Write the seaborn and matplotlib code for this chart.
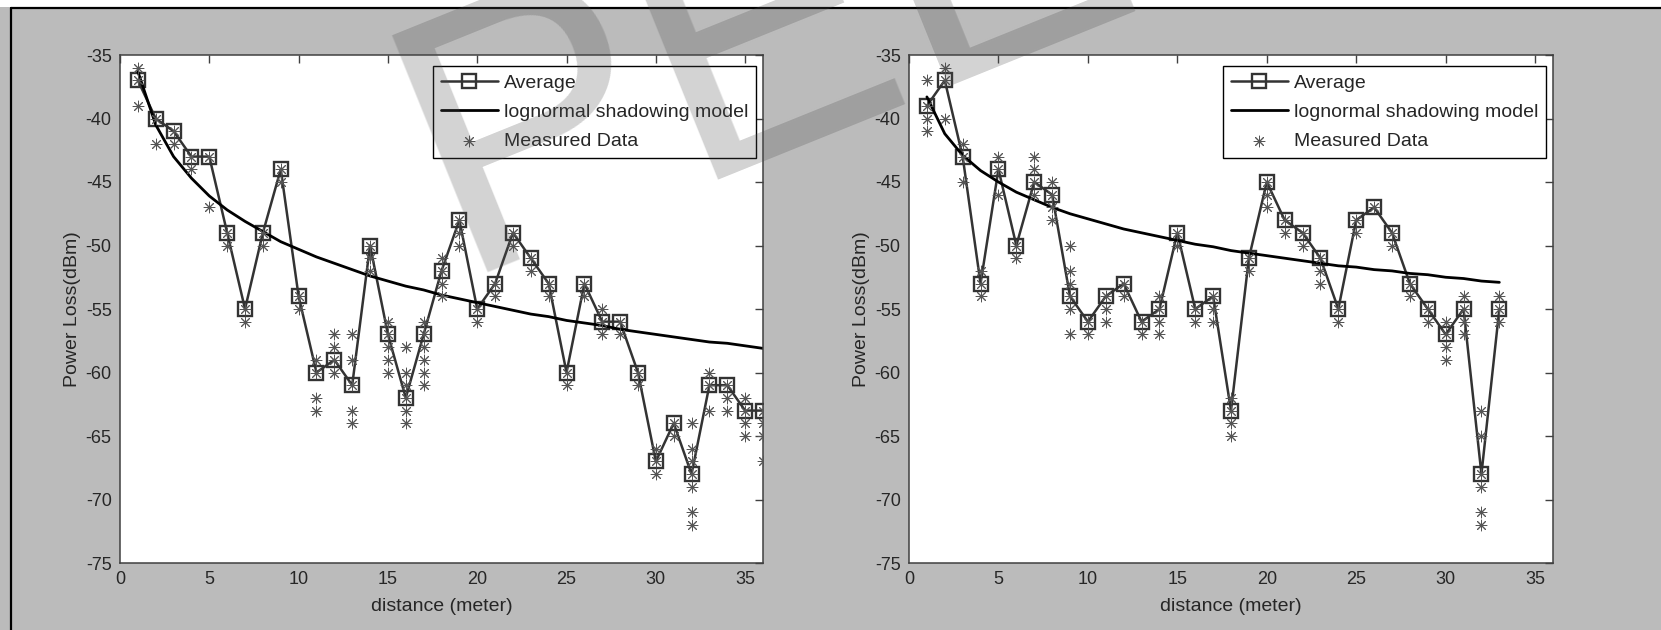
import numpy as np
import pandas as pd
import seaborn as sns
import matplotlib.pyplot as plt
from matplotlib.lines import Line2D
from matplotlib.patches import Rectangle

# left panel data
dist_left = list(range(1, 37))
avg_left = [-37, -40, -41, -43, -43, -49, -55, -49, -44, -54, -60, -59, -61, -50, -57, -62, -57, -52,
            -48, -55, -53, -49, -51, -53, -60, -53, -56, -56, -60, -67, -64, -68, -61, -61, -63, -63]
model_left = [-36.3, -40.5, -43.0, -44.7, -46.1, -47.2, -48.1, -48.9, -49.7, -50.3, -50.9, -51.4,
              -51.9, -52.4, -52.8, -53.2, -53.5, -53.9, -54.2, -54.5, -54.8, -55.1, -55.4, -55.6,
              -55.9, -56.1, -56.3, -56.6, -56.8, -57.0, -57.2, -57.4, -57.6, -57.7, -57.9, -58.1]
meas_left = [[-36, -37, -39], [-40, -42], [-41, -42], [-43, -44], [-43, -47], [-49, -50],
             [-55, -56], [-49, -50], [-44, -45], [-54, -55], [-59, -60, -62, -63],
             [-57, -58, -59, -60], [-57, -59, -61, -63, -64], [-50, -51, -52],
             [-56, -57, -58, -59, -60], [-58, -60, -61, -62, -63, -64],
             [-56, -57, -58, -59, -60, -61], [-51, -52, -53, -54], [-48, -49, -50], [-55, -56],
             [-53, -54], [-49, -50], [-51, -52], [-53, -54], [-60, -61], [-53, -54],
             [-55, -56, -57], [-56, -57], [-60, -61], [-66, -67, -68], [-64, -65],
             [-64, -66, -67, -68, -69, -71, -72], [-60, -61, -63], [-61, -62, -63],
             [-62, -63, -64, -65], [-63, -64, -65, -67]]

# right panel data
dist_right = list(range(1, 34))
avg_right = [-39, -37, -43, -53, -44, -50, -45, -46, -54, -56, -54, -53, -56, -55, -49, -55, -54,
             -63, -51, -45, -48, -49, -51, -55, -48, -47, -49, -53, -55, -57, -55, -68, -55]
model_right = [-38.3, -41.2, -42.9, -44.1, -45.0, -45.8, -46.4, -47.0, -47.5, -47.9, -48.3, -48.7,
               -49.0, -49.3, -49.6, -49.9, -50.1, -50.4, -50.6, -50.8, -51.0, -51.2, -51.4, -51.6,
               -51.7, -51.9, -52.0, -52.2, -52.3, -52.5, -52.6, -52.8, -52.9]
meas_right = [[-37, -39, -40, -41], [-36, -37, -40], [-42, -43, -45], [-52, -53, -54],
              [-43, -44, -46], [-50, -51], [-43, -44, -45, -46], [-45, -46, -47, -48],
              [-50, -52, -53, -54, -55, -57], [-56, -57], [-54, -55, -56], [-53, -54],
              [-56, -57], [-54, -55, -56, -57], [-49, -50], [-55, -56], [-54, -55, -56],
              [-62, -63, -64, -65], [-51, -52], [-45, -46, -47], [-48, -49], [-49, -50],
              [-51, -52, -53], [-55, -56], [-48, -49], [-47], [-49, -50], [-53, -54],
              [-55, -56], [-56, -57, -58, -59], [-54, -55, -56, -57],
              [-63, -65, -68, -69, -71, -72], [-54, -55, -56]]

x_ticks = [0, 5, 10, 15, 20, 25, 30, 35]
y_ticks = [-75, -70, -65, -60, -55, -50, -45, -40, -35]

sns.set_style("white")
plt.rcParams['font.family'] = ['Liberation Sans', 'DejaVu Sans']
plt.rcParams['axes.unicode_minus'] = False

fig = plt.figure(figsize=(16.61, 6.30), dpi=100, facecolor='#bbbbbb')
ax1 = fig.add_axes([120/1661, 67/630, 643/1661, 508/630])
ax2 = fig.add_axes([909/1661, 67/630, 644/1661, 508/630])


def draw_panel(ax, dist, avg, model, meas):
    meas_df = pd.DataFrame({'d': dist, 'p': meas}).explode('p')
    meas_df['p'] = meas_df['p'].astype(float)
    sns.lineplot(x=dist, y=avg, ax=ax, color='#333333', lw=1.8, marker='s', markersize=9.5,
                 markerfacecolor='none', markeredgecolor='#333333', markeredgewidth=1.7,
                 label='Average', estimator=None)
    sns.lineplot(x=dist, y=model, ax=ax, color='black', lw=2.0,
                 label='lognormal shadowing model', estimator=None)
    sns.scatterplot(data=meas_df, x='d', y='p', ax=ax, marker=(8, 2, 0), s=60,
                    color='#555555', linewidth=0.7, label='Measured Data', zorder=3)
    ax.set_xlim(0, 36)
    ax.set_ylim(-75, -35)
    ax.set_xticks(x_ticks)
    ax.set_yticks(y_ticks)
    ax.set_facecolor('white')
    ax.tick_params(direction='in', length=6, width=1, color='#404040', labelsize=13,
                   top=True, right=True, pad=6)
    for sp in ax.spines.values():
        sp.set_color('#404040')
        sp.set_linewidth(1.1)
    ax.set_xlabel('distance (meter)', fontsize=14, labelpad=7)
    ax.set_ylabel('Power Loss(dBm)', fontsize=14, labelpad=3)
    leg = ax.legend(loc='upper right', bbox_to_anchor=(0.989, 0.978), borderaxespad=0,
                    fontsize=14, fancybox=False, edgecolor='black', framealpha=1,
                    handlelength=2.95, handletextpad=0.3, borderpad=0.4, labelspacing=0.6)
    leg.get_frame().set_linewidth(1.0)


draw_panel(ax1, dist_left, avg_left, model_left, meas_left)
draw_panel(ax2, dist_right, avg_right, model_right, meas_right)

# page frame: white strip on top and black border lines
fig.add_artist(Rectangle((0, 1 - 7/630), 1, 7/630, transform=fig.transFigure,
                         facecolor='white', edgecolor='none', zorder=5))
fig.add_artist(Line2D([11/1661, 1], [1 - 7.5/630, 1 - 7.5/630], transform=fig.transFigure,
                      color='black', lw=1.6, zorder=6))
fig.add_artist(Line2D([11/1661, 11/1661], [0, 1 - 7.5/630], transform=fig.transFigure,
                      color='black', lw=1.6, zorder=6))

# watermark
fig.text(0.277, 0.549, 'PEER REVIEW', fontsize=268, rotation=22, rotation_mode='anchor',
         ha='left', va='baseline', color=(0.3, 0.3, 0.3, 0.25), zorder=10)

fig.savefig('out.png', dpi=100, facecolor=fig.get_facecolor())
